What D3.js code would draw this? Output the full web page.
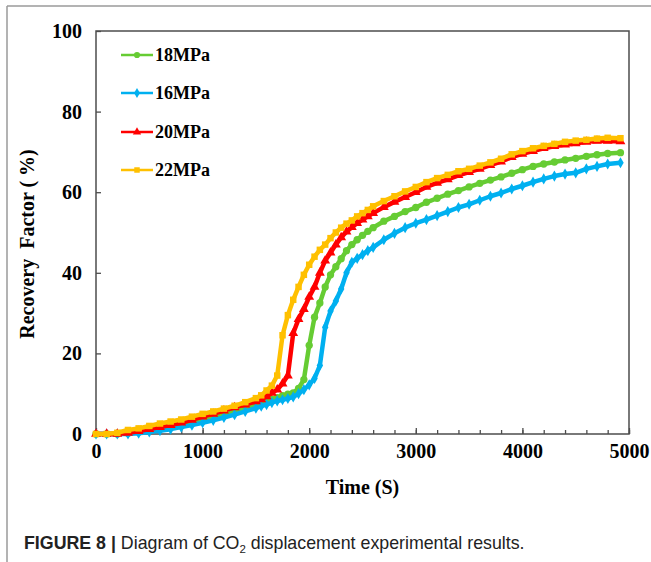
<!DOCTYPE html>
<html>
<head>
<meta charset="utf-8">
<script src="https://cdn.jsdelivr.net/npm/d3@7/dist/d3.min.js"></script>
<style>
  html, body { margin: 0; padding: 0; background: #fff; }
  svg { display: block; }
</style>
</head>
<body>
<svg id="chart" width="651" height="562"></svg>
<script>
// ---------------- data ----------------
const times = [0,100,200,300,400,500,600,700,800,900,1000,1100,1200,1300,1400,1500,
  1550,1600,1650,1700,1750,1800,1850,1900,1950,2000,2050,2100,2150,2200,2250,2300,2350,2400,2450,2500,2550,2600,
  2700,2800,2900,3000,3100,3200,3300,3400,3500,3600,3700,3800,3900,4000,4100,4200,4300,4400,4500,4600,4700,4800,4920];

const seriesNames = ["18MPa", "16MPa", "20MPa", "22MPa"];

const rf18 = [0,0,0,0.2,0.5,0.9,1.3,1.7,2.2,2.8,3.5,4.2,4.8,5.5,6.3,7.2,
  7.6,8.1,8.6,9.0,9.5,9.9,10.2,11.3,13.5,22.0,29.0,32.5,36.5,39.5,41.5,43.5,45.5,47.0,48.2,49.3,50.3,51.2,
  52.8,54.0,55.2,56.2,57.5,58.5,59.5,60.4,61.3,62.2,63.0,63.8,64.7,65.6,66.4,67.0,67.5,68.0,68.4,68.9,69.3,69.6,69.8];

const rf16 = [0,0,0,0,0.2,0.5,0.8,1.2,1.7,2.2,2.8,3.4,4.1,4.8,5.6,6.4,
  6.9,7.3,7.8,8.2,8.5,8.8,9.2,10.0,11.0,12.2,13.8,17.0,26.5,30.5,33.0,36.0,40.0,42.6,43.6,44.5,45.5,46.3,
  48.2,49.8,51.2,52.3,53.2,54.2,55.2,56.2,57.0,58.0,59.0,59.8,60.8,61.6,62.5,63.3,64.0,64.5,64.8,65.8,66.4,67.0,67.3];

const rf20 = [0,0,0,0.3,0.7,1.2,1.7,2.2,2.8,3.5,4.3,5.0,5.8,6.6,7.3,8.1,
  8.6,9.3,10.2,11.0,12.5,14.5,25.0,28.5,31.0,34.0,36.5,40.0,43.0,45.0,47.0,48.8,50.2,51.3,52.3,53.2,54.0,54.8,
  56.3,57.6,58.8,60.0,61.3,62.3,63.2,64.2,65.0,65.8,66.7,67.6,68.7,69.5,70.2,70.9,71.4,71.8,72.1,72.5,72.7,72.7,72.6];

const rf22 = [0,0,0.3,1.0,1.4,2.0,2.6,3.1,3.6,4.3,5.0,5.6,6.3,7.0,7.9,8.9,
  9.6,10.8,12.0,14.5,24.5,29.5,33.3,36.5,39.5,42.0,44.0,45.7,47.0,48.6,50.0,51.2,52.2,53.0,54.0,54.8,55.6,56.5,
  57.8,59.0,60.2,61.3,62.5,63.5,64.3,65.2,65.8,66.6,67.4,68.3,69.4,70.2,70.9,71.5,72.0,72.5,72.8,73.0,73.3,73.5,73.4];

const xTickLabels = [0, 1000, 2000, 3000, 4000, 5000];
const yTickLabels = [0, 20, 40, 60, 80, 100];
const seriesColors = ["#66CC33", "#00B0F0", "#FF0000", "#FFC000"];
const seriesSymbols = [d3.symbolCircle, d3.symbolDiamond, d3.symbolTriangle, d3.symbolSquare];
const seriesValues = [rf18, rf16, rf20, rf22];

// ---------------- layout ----------------
const svg = d3.select("#chart");
const plot = { left: 96, top: 31, right: 629, bottom: 434 };

// outer frame (figure panel border)
svg.append("line").attr("x1", 7).attr("y1", 6).attr("x2", 651).attr("y2", 6)
  .attr("stroke", "#9a9a9a").attr("stroke-width", 1.5);
svg.append("line").attr("x1", 7).attr("y1", 6).attr("x2", 7).attr("y2", 562)
  .attr("stroke", "#9a9a9a").attr("stroke-width", 1.5);

const x = d3.scaleLinear().domain([0, 5000]).range([plot.left, plot.right]);
const y = d3.scaleLinear().domain([0, 100]).range([plot.bottom, plot.top]);

const serif = "'Liberation Serif', 'Times New Roman', serif";

// plot box
svg.append("rect")
  .attr("x", plot.left).attr("y", plot.top)
  .attr("width", plot.right - plot.left).attr("height", plot.bottom - plot.top)
  .attr("fill", "none").attr("stroke", "#4d4d4d").attr("stroke-width", 1.5);

// x axis: minor ticks every 200 inward, major at 1000
const xAxisMinor = d3.axisBottom(x).tickValues(d3.range(0, 5001, 200)).tickSize(-4).tickFormat("");
const gxMinor = svg.append("g").attr("transform", `translate(0,${plot.bottom})`).call(xAxisMinor);
gxMinor.select(".domain").remove();
gxMinor.selectAll("line").attr("stroke", "#4d4d4d").attr("stroke-width", 1.3);

const xAxis = d3.axisBottom(x).tickValues(xTickLabels).tickSize(-6).tickPadding(24).tickFormat(d3.format("d"));
const gx = svg.append("g").attr("transform", `translate(0,${plot.bottom})`).call(xAxis);
gx.select(".domain").remove();
gx.selectAll("line").attr("stroke", "#4d4d4d").attr("stroke-width", 1.3);
gx.selectAll("text").attr("font-family", serif).attr("font-weight", "bold")
  .attr("font-size", 20).attr("fill", "#000").attr("dy", 0);

// y axis ticks inward
const yAxis = d3.axisLeft(y).tickValues(yTickLabels).tickSize(-5).tickPadding(14).tickFormat(d3.format("d"));
const gy = svg.append("g").attr("transform", `translate(${plot.left},0)`).call(yAxis);
gy.select(".domain").remove();
gy.selectAll("line").attr("stroke", "#4d4d4d").attr("stroke-width", 1.3);
gy.selectAll("text").attr("font-family", serif).attr("font-weight", "bold")
  .attr("font-size", 20).attr("fill", "#000").attr("dy", "0.32em");

// axis titles
svg.append("text").attr("x", (plot.left + plot.right) / 2).attr("y", 494)
  .attr("text-anchor", "middle").attr("font-family", serif).attr("font-weight", "bold")
  .attr("font-size", 20).attr("fill", "#000").text("Time (S)");

svg.append("text").attr("transform", "translate(34,244) rotate(-90)")
  .attr("text-anchor", "middle").attr("font-family", serif).attr("font-weight", "bold")
  .attr("font-size", 20).attr("fill", "#000").attr("xml:space", "preserve")
  .text("Recovery  Factor ( %)");

// series
const line = d3.line().x((d, i) => x(times[i])).y(d => y(d));
seriesValues.forEach((vals, si) => {
  const g = svg.append("g");
  g.append("path").datum(vals).attr("d", line)
    .attr("fill", "none").attr("stroke", seriesColors[si]).attr("stroke-width", 4.5)
    .attr("stroke-linejoin", "round");
  const sym = d3.symbol().type(seriesSymbols[si]).size(si === 1 ? 36 : 42);
  g.selectAll("path.m").data(vals).enter().append("path").attr("class", "m")
    .attr("transform", (d, i) => `translate(${x(times[i])},${y(d)})`)
    .attr("d", sym).attr("fill", seriesColors[si]);
});

// legend
const legendY = [55, 93, 132, 170];
seriesNames.forEach((name, si) => {
  const g = svg.append("g").attr("transform", `translate(0,${legendY[si]})`);
  g.append("line").attr("x1", 121).attr("x2", 153).attr("y1", 0).attr("y2", 0)
    .attr("stroke", seriesColors[si]).attr("stroke-width", 2.5);
  g.append("path").attr("transform", "translate(137,0)")
    .attr("d", d3.symbol().type(seriesSymbols[si]).size(30)).attr("fill", seriesColors[si]);
  g.append("text").attr("x", 155).attr("y", 0).attr("dy", "0.35em")
    .attr("font-family", serif).attr("font-weight", "bold").attr("font-size", 18)
    .attr("fill", "#000").text(name);
});

// caption
const sans = "'Liberation Sans', Arial, Helvetica, sans-serif";
const cap = svg.append("text").attr("x", 24).attr("y", 549)
  .attr("font-family", sans).attr("font-size", 17.8).attr("fill", "#222");
cap.append("tspan").attr("font-weight", "bold").text("FIGURE 8 | ");
cap.append("tspan").text("Diagram of CO");
cap.append("tspan").attr("font-size", 11.5).attr("dy", 4).text("2");
cap.append("tspan").attr("dy", -4).text(" displacement experimental results.");
</script>
</body>
</html>
